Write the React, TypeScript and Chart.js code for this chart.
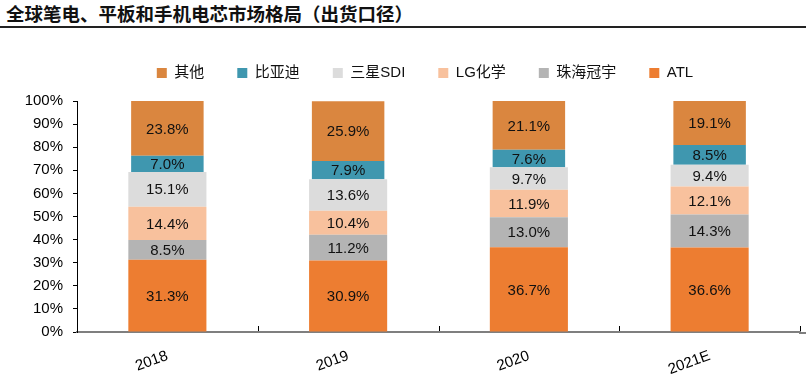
import React, { useEffect, useRef } from 'react';
import { Chart, registerables } from 'chart.js';

Chart.register(...registerables);

// ---- data ----
const categories = ['2018', '2019', '2020', '2021E'];
const atl = [31.3, 30.9, 36.7, 36.6];
const zhuhai = [8.5, 11.2, 13.0, 14.3];
const lgChem = [14.4, 10.4, 11.9, 12.1];
const samsung = [15.1, 13.6, 9.7, 9.4];
const byd = [7.0, 7.9, 7.6, 8.5];
const others = [23.8, 25.9, 21.1, 19.1];
const seriesNames = ['ATL', '珠海冠宇', 'LG化学', '三星SDI', '比亚迪', '其他'];
const yTickStep = 10;
const yMax = 100;

const colors = ['#ED7D31', '#B4B4B4', '#F8C19D', '#DCDCDC', '#3F97AF', '#DA863F'];
const FONT = '"Liberation Sans", Arial, "Noto Sans CJK SC", sans-serif';

const dataLabelPlugin = {
  id: 'segLabels',
  afterDatasetsDraw(chart: any) {
    const { ctx } = chart;
    ctx.save();
    ctx.font = `15px ${FONT}`;
    ctx.fillStyle = '#111';
    ctx.textAlign = 'center';
    ctx.textBaseline = 'middle';
    chart.data.datasets.forEach((ds: any, di: number) => {
      const meta = chart.getDatasetMeta(di);
      meta.data.forEach((el: any, i: number) => {
        const v = ds.data[i];
        const top = Math.max(el.y, chart.chartArea.top);
        ctx.fillText(v.toFixed(1) + '%', el.x, (top + el.base) / 2 + 1);
      });
    });
    ctx.restore();
  },
};

const legendShiftPlugin = {
  id: 'legendShift',
  afterLayout(chart: any) {
    if (chart.legend) {
      chart.legend.left += 13;
      chart.legend.right += 13;
    }
  },
};

const innerTicksPlugin = {
  id: 'innerTicks',
  afterDraw(chart: any) {
    const x = chart.scales.x;
    const { ctx, chartArea, width } = chart;
    const n = categories.length;
    ctx.save();
    // extend axis line to the right edge
    ctx.strokeStyle = '#7F7F7F';
    ctx.lineWidth = 2;
    ctx.beginPath();
    ctx.moveTo(chartArea.right - 1, chartArea.bottom + 1);
    ctx.lineTo(width, chartArea.bottom + 1);
    ctx.stroke();
    ctx.strokeStyle = '#000';
    ctx.lineWidth = 1;
    for (let i = 1; i <= n; i++) {
      const px =
        i < n
          ? (x.getPixelForValue(i - 1) + x.getPixelForValue(i)) / 2
          : chartArea.right;
      const xx = Math.round(px) + 0.5;
      ctx.beginPath();
      ctx.moveTo(xx, chartArea.bottom - 1);
      ctx.lineTo(xx, chartArea.bottom - 6);
      ctx.stroke();
    }
    ctx.restore();
  },
};

export default function App() {
  const ref = useRef<HTMLCanvasElement | null>(null);

  useEffect(() => {
    document.body.style.margin = '0';
    const series = [atl, zhuhai, lgChem, samsung, byd, others];
    const chart = new Chart(ref.current as HTMLCanvasElement, {
      type: 'bar',
      data: {
        labels: categories,
        datasets: series.map((d, i) => ({
          label: seriesNames[i],
          data: d,
          backgroundColor: colors[i],
          borderWidth: 0,
          categoryPercentage: 1,
          barPercentage: i >= 4 ? 0.401 : 0.432,
        })),
      },
      options: {
        animation: false,
        responsive: false,
        maintainAspectRatio: false,
        layout: { padding: { top: 32.5, left: 24, right: 6, bottom: 0 } },
        plugins: {
          tooltip: { enabled: false },
          legend: {
            display: true,
            position: 'top',
            reverse: true,
            labels: {
              boxWidth: 10,
              boxHeight: 10,
              padding: 33,
              color: '#111',
              font: { size: 15, family: FONT },
            },
          },
          subtitle: {
            display: true,
            text: '',
            position: 'top',
            weight: 500,
            padding: 0,
            font: { size: 10.5, lineHeight: 1, family: FONT },
          },
          title: { display: false },
        },
        scales: {
          x: {
            stacked: true,
            offset: true,
            grid: { display: false },
            border: { display: true, color: '#7F7F7F', width: 2 },
            ticks: {
              autoSkip: false,
              maxRotation: 20,
              minRotation: 20,
              padding: 7,
              color: '#000',
              font: { size: 15, family: FONT },
            },
            afterFit: (s: any) => {
              s.height = 45;
            },
          },
          y: {
            stacked: true,
            min: 0,
            max: yMax,
            grid: {
              display: true,
              drawOnChartArea: false,
              drawTicks: true,
              tickLength: 4,
              color: '#000',
            },
            border: { display: true, color: '#000', width: 1 },
            ticks: {
              stepSize: yTickStep,
              padding: 10,
              color: '#000',
              font: { size: 15, family: FONT },
              callback: (v: any) => v + '%',
            },
            afterFit: (s: any) => {
              s.width = 53;
            },
          },
        },
      },
      plugins: [dataLabelPlugin, innerTicksPlugin, legendShiftPlugin],
    });
    return () => chart.destroy();
  }, []);

  return (
    <div style={{ position: 'relative', width: 806, height: 377, background: '#fff', overflow: 'hidden' }}>
      <div
        style={{
          position: 'absolute',
          left: 0,
          top: 0,
          width: 806,
          height: 26,
          borderBottom: '2px solid #222',
        }}
      >
        <span
          style={{
            position: 'absolute',
            left: 6,
            top: 1,
            fontFamily: '"Noto Sans CJK SC", sans-serif',
            fontWeight: 700,
            fontSize: 18.5,
            lineHeight: '24px',
            color: '#111',
            whiteSpace: 'nowrap',
          }}
        >
          全球笔电、平板和手机电芯市场格局（出货口径）
        </span>
      </div>
      <canvas
        ref={ref}
        width={806}
        height={377}
        style={{ position: 'absolute', left: 0, top: 0, width: 806, height: 377 }}
      />
    </div>
  );
}
